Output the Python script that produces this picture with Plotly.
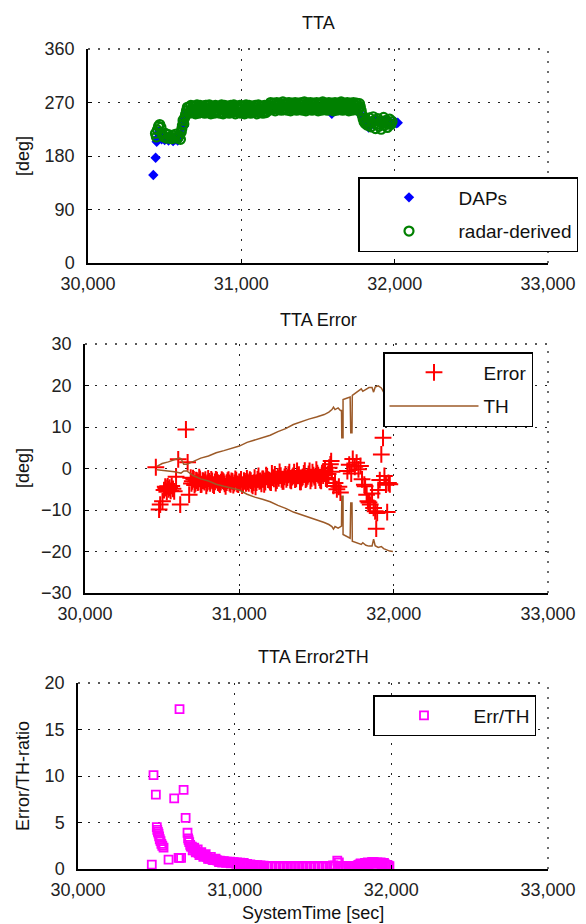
import plotly.graph_objects as go

# ---------------- data ----------------
X_TICKS = [30000, 31000, 32000, 33000]
X_TICK_TEXT = ["30,000", "31,000", "32,000", "33,000"]
Y1_TICKS = [0, 90, 180, 270, 360]
Y2_TICKS = [-30, -20, -10, 0, 10, 20, 30]
Y3_TICKS = [0, 5, 10, 15, 20]

daps_t = [30426, 30441, 30448, 30452, 30458, 30465, 30472, 30480, 30490, 30500, 30512, 30525,
          30540, 30555, 30570, 30585, 30598, 30605, 30612, 30618, 30625, 30632, 30640, 30650,
          30700, 30750, 30800, 30850, 30900, 30950, 31000, 31050, 31100, 31150, 31200, 31250,
          31300, 31350, 31400, 31450, 31500, 31590, 31650, 31709, 31740, 31770, 31790, 31800,
          31810, 31820, 31830, 31845, 31860, 31880, 31900, 31920, 31940, 31960, 31980, 32000,
          32010, 32020]
daps_v = [148, 177, 204, 210, 218, 222, 214, 208, 210, 207, 212, 206,
          209, 205, 208, 206, 212, 218, 232, 238, 230, 245, 250, 254,
          255, 258, 256, 259, 254, 257, 255, 258, 256, 259, 262, 263,
          261, 264, 262, 263, 259, 251, 262, 256, 263, 252, 245, 240,
          236, 232, 228, 238, 235, 242, 236, 232, 240, 236, 234, 238,
          235, 236]

radar_t = [30440, 30446, 30452, 30460, 30468, 30476, 30485, 30495, 30505, 30515, 30525, 30535,
           30545, 30555, 30565, 30575, 30585, 30595, 30603, 30608, 30612, 30616, 30620, 30625,
           30630, 30636, 30642, 30648,
           30656, 30665, 30677, 30686, 30695, 30707, 30716, 30725, 30737, 30746, 30755, 30767,
           30776, 30785, 30797, 30806, 30815, 30827, 30836, 30845, 30857, 30866, 30875, 30887,
           30896, 30905, 30917, 30926, 30935, 30947, 30956, 30965, 30977, 30986, 30995, 31007,
           31016, 31025, 31037, 31046, 31055, 31067, 31076, 31085, 31097, 31106, 31115, 31127,
           31136, 31145, 31157, 31166,
           30661, 30671, 30681, 30691, 30701, 30711, 30721, 30731, 30741, 30751, 30761, 30771,
           30781, 30791, 30801, 30811, 30821, 30831, 30841, 30851, 30861, 30871, 30881, 30891,
           30901, 30911, 30921, 30931, 30941, 30951, 30961, 30971, 30981, 30991, 31001, 31011,
           31021, 31031, 31041, 31051, 31061, 31071, 31081, 31091, 31101, 31111, 31121, 31131,
           31141, 31151, 31161, 31171,
           31176, 31185, 31197, 31206, 31215, 31227, 31236, 31245, 31257, 31266, 31275, 31287,
           31296, 31305, 31317, 31326, 31335, 31347, 31356, 31365, 31377, 31386, 31395, 31407,
           31416, 31425, 31437, 31446, 31455, 31467, 31476, 31485, 31497, 31506, 31515, 31527,
           31536, 31545, 31557, 31566, 31575, 31587, 31596, 31605, 31617, 31626, 31635, 31647,
           31656, 31665, 31677, 31686, 31695, 31707, 31716, 31725, 31737, 31746, 31755, 31767,
           31776,
           31181, 31191, 31201, 31211, 31221, 31231, 31241, 31251, 31261, 31271, 31281, 31291,
           31301, 31311, 31321, 31331, 31341, 31351, 31361, 31371, 31381, 31391, 31401, 31411,
           31421, 31431, 31441, 31451, 31461, 31471, 31481, 31491, 31501, 31511, 31521, 31531,
           31541, 31551, 31561, 31571, 31581, 31591, 31601, 31611, 31621, 31631, 31641, 31651,
           31661, 31671, 31681, 31691, 31701, 31711, 31721, 31731, 31741, 31751, 31761, 31771,
           31782, 31788, 31794, 31800, 31806, 31812, 31820, 31828, 31836, 31845, 31852, 31860,
           31868, 31875, 31882, 31890, 31898, 31905, 31912, 31920, 31928, 31936, 31944, 31952,
           31960, 31968, 31975, 31983]
radar_v = [218, 212, 224, 230, 233, 228, 216, 212, 218, 210, 216, 212,
           209, 215, 211, 217, 210, 214, 208, 220, 226, 232, 240, 234,
           244, 250, 256, 262,
           262, 255, 259, 264, 253, 260, 257, 263, 254, 261, 256, 265,
           258, 253, 262, 257, 260, 254, 263, 256, 259, 264, 253, 261,
           257, 262, 255, 260, 254, 263, 258, 256, 261, 253, 259, 264,
           255, 260, 257, 262, 254, 259, 263, 256, 261, 254, 258, 263,
           257, 260, 255, 262,
           252, 265, 253, 264, 251, 266, 252, 265, 254, 264, 252, 265,
           253, 266, 251, 264, 252, 265, 253, 264, 252, 266, 251, 265,
           253, 264, 252, 265, 254, 266, 251, 264, 253, 265, 252, 264,
           251, 266, 253, 265, 252, 264, 254, 265, 251, 266, 253, 264,
           252, 265, 253, 264,
           266, 259, 263, 268, 261, 265, 260, 267, 262, 264, 258, 266,
           263, 269, 260, 265, 262, 267, 259, 264, 268, 261, 266, 263,
           260, 265, 269, 262, 264, 259, 267, 263, 261, 266, 260, 268,
           262, 265, 259, 264, 267, 261, 263, 266, 260, 265, 262, 268,
           259, 264, 261, 266, 263, 258, 265, 262, 267, 260, 264, 261,
           263,
           257, 270, 258, 269, 256, 270, 258, 269, 257, 271, 258, 269,
           257, 270, 256, 269, 258, 270, 257, 269, 258, 270, 257, 271,
           256, 269, 258, 270, 257, 269, 258, 270, 256, 269, 257, 271,
           258, 269, 257, 270, 258, 269, 256, 270, 257, 269, 258, 271,
           257, 269, 258, 270, 256, 269, 257, 270, 258, 269, 257, 268,
           256, 249, 243, 238, 235, 240, 232, 237, 244, 229, 236, 246,
           240, 226, 233, 243, 230, 238, 225, 235, 245, 232, 240, 228,
           236, 242, 233, 238]

err_t = [30459, 30480, 30487, 30502, 30512, 30520, 30524, 30530, 30536, 30542, 30548, 30555,
         30562, 30570, 30578, 30590, 30604, 30617, 30654, 30665, 30675,
         30685, 30695, 30705, 30715, 30725, 30735, 30745, 30755, 30768, 30780, 30792, 30805,
         30818, 30830, 30842, 30855, 30868, 30880, 30893, 30905, 30918, 30930, 30943, 30955,
         30968, 30980, 30993, 31005, 31018, 31030, 31043, 31055, 31068, 31080, 31093, 31105,
         31118, 31130, 31143, 31155, 31168, 31180, 31193, 31205, 31218, 31230, 31243, 31255,
         31268, 31280, 31293, 31305, 31318, 31330, 31343, 31355, 31368, 31380, 31393, 31405,
         31418, 31430, 31443, 31455, 31468, 31480, 31493, 31505, 31518, 31530, 31543, 31555,
         31568, 31575, 31582, 31590, 31595, 31600, 31610, 31620, 31632, 31645, 31655,
         31700, 31712, 31725, 31735, 31748, 31760, 31772, 31785, 31795, 31810, 31815, 31825,
         31833, 31840, 31848, 31860, 31870, 31880, 31887, 31893, 31900, 31910, 31920, 31931,
         31940, 31950, 31958, 31966, 31975,
         30690, 30700, 30710, 30720, 30730, 30740, 30750, 30762, 30774, 30786, 30798, 30811,
         30824, 30836, 30848, 30861, 30874, 30886, 30899, 30911, 30924, 30936, 30949, 30961,
         30974, 30986, 30999, 31011, 31024, 31036, 31049, 31061, 31074, 31086, 31099, 31111,
         31124, 31136, 31149, 31161, 31174, 31186, 31199, 31211, 31224, 31236, 31249, 31261,
         31274, 31286, 31299, 31311, 31324, 31336, 31349, 31361, 31374, 31386, 31399, 31411,
         31424, 31436, 31449, 31461, 31474, 31486, 31499, 31511, 31524, 31536, 31549, 31561]
err_v = [0.3, -9.9, -8.7, -7.9, -5.2, -4.4, -4.7, -5.6, -4.3, -5.0, -4.6, -5.4,
         -4.2, -4.9, -5.5, -2.0, 2.2, -8.7, 9.4, 1.5, -6.3,
         -2.2, -3.1, -2.6, -3.6, -2.9, -3.3, -2.5, -3.8, -3.0, -2.7, -3.5, -3.1,
         -2.6, -3.9, -3.2, -2.8, -3.6, -3.3, -2.9, -3.7, -3.4, -2.7, -3.8, -3.1,
         -3.5, -2.8, -3.9, -3.3, -4.1, -2.9, -3.6, -3.2, -2.7, -3.8, -3.4, -4.4,
         -2.6, -3.1, -3.7, -2.5, -3.3, -1.9, -2.8, -3.4, -2.2, -1.4, -2.9, -2.4,
         -1.7, -3.1, -2.0, -2.6, -1.5, -2.8, -2.1, -0.9, -2.5, -1.8, -3.2, -2.3,
         -1.2, -2.7, -1.9, -0.6, -2.4, -1.6, -2.9, -1.1, -2.2, -3.0, -1.7, -0.4,
         -2.6, -1.3, 0.2, 1.0, 1.8, -0.8, -4.2, -3.5, -5.0, -4.4, -5.8,
         -0.6, 0.9, -1.2, 2.3, 0.4, 1.4, -0.2, 0.6, -2.6, -3.9, -4.3, -6.3,
         -7.9, -8.2, -8.7, -6.0, -9.5, -10.3, -14.5, -10.7, -5.2, -2.8, 3.4, 7.4,
         -1.8, -3.9, -10.5, -3.5, -3.8,
         -3.6, -2.3, -4.0, -2.8, -3.4, -2.1, -3.9, -2.9, -3.3, -4.2, -2.4, -3.6,
         -3.0, -4.1, -2.6, -3.4, -3.9, -2.7, -3.2, -4.3, -2.9, -3.5, -3.0, -4.0,
         -2.5, -3.7, -3.2, -2.6, -3.9, -3.1, -2.4, -3.6, -2.9, -4.2, -2.2, -3.4,
         -1.8, -3.0, -2.5, -3.8, -1.6, -2.7, -3.3, -1.2, -2.5, -3.5, -1.9, -0.8,
         -2.6, -3.1, -1.4, -2.2, -0.9, -3.0, -1.8, -2.7, -0.6, -1.5, -3.2, -2.0,
         -0.5, -2.4, -1.3, -3.0, -0.9, -2.1, -0.3, -1.6, -2.8, -1.1, -0.7, -2.3]

th_t = [30466, 30500, 30540, 30580, 30610, 30622, 30640, 30660, 30700, 30750, 30800, 30850,
        30900, 30950, 31000, 31050, 31100, 31150, 31200, 31250, 31300, 31350, 31400, 31450,
        31500, 31550, 31580, 31600, 31610, 31620, 31640, 31655, 31662, 31664, 31672, 31672,
        31700, 31718, 31722, 31730, 31732, 31760, 31790, 31800, 31820, 31840, 31860, 31870,
        31880, 31900, 31920, 31935, 31950, 31975, 31995]
th_up = [0.5, 1.2, 1.6, 2.2, 2.5, 2.4, 1.0, 1.0, 1.7, 2.5, 3.0, 3.8,
         4.3, 4.8, 5.4, 6.3, 6.9, 7.5, 8.0, 8.9, 9.6, 10.6, 11.3, 11.9,
         12.4, 13.0, 13.6, 14.2, 14.8, 14.2, 14.6, 14.0, 14.0, 7.4, 7.4, 16.6,
         17.0, 17.2, 8.6, 8.6, 17.6, 18.3, 19.2, 18.6, 19.0, 19.5, 19.5, 18.4,
         19.6, 19.9, 19.4, 18.4, 19.9, 19.9, 19.4]
th_lo = [-0.3, -0.4, -0.6, -0.8, -1.0, -1.1, -0.6, -0.6, -1.7, -2.5, -3.0, -3.8,
         -4.3, -4.8, -5.2, -6.2, -6.9, -7.4, -8.0, -8.9, -9.6, -10.5, -11.1, -11.8,
         -12.4, -13.0, -13.5, -14.0, -14.6, -14.0, -14.4, -13.9, -13.9, -6.7, -6.7, -15.9,
         -16.4, -16.8, -8.3, -8.3, -17.5, -17.8, -18.3, -17.9, -18.5, -18.7, -18.7, -17.0,
         -18.6, -19.0, -18.8, -19.3, -19.6, -19.9, -20.0]

ratio_t = [30471, 30482, 30497, 30503, 30506, 30510, 30514, 30518, 30522, 30527, 30532, 30538,
           30546, 30578, 30614, 30642, 30648, 30648, 30658, 30674, 30687, 30699, 30703, 30706,
           30716, 30727, 30738, 30748, 30759, 30770, 30780, 30795, 30810, 30823, 30840, 30855,
           30866, 30885, 30905, 30930, 30950, 30970, 30994, 31015, 31035, 31058, 31080, 31100,
           31122, 31143, 31165, 31185, 31207, 31230, 31255, 31280, 31305, 31330, 31355, 31380,
           31405, 31430, 31455, 31480, 31505, 31530, 31555, 31580, 31605, 31628, 31655, 31676,
           31695, 31715, 31735, 31755, 31775, 31790, 31804, 31818, 31832, 31850, 31862, 31876,
           31890, 31904, 31918, 31932, 31946, 31960, 31974, 31988,
           30710, 30720, 30732, 30742, 30752, 30764, 30775, 30787, 30800, 30815, 30830, 30848,
           30862, 30878,
           30890, 30900, 30912, 30920, 30935, 30945, 30960, 30975, 30985, 31000, 31010, 31025,
           31040, 31050, 31065, 31075, 31090, 31110, 31130, 31150, 31170, 31190, 31215, 31240,
           31265, 31290, 31315, 31340, 31365, 31390, 31415, 31440, 31465, 31490, 31515, 31540,
           31565, 31590, 31615, 31640, 31665, 31690, 31705, 31725, 31745, 31765, 31785, 31797,
           31810, 31825, 31840, 31855, 31870, 31883, 31897, 31911, 31925, 31939, 31953, 31967,
           31981]
ratio_v = [0.46, 10.1, 8.0, 4.5, 4.2, 4.0, 3.8, 3.5, 3.2, 3.0, 2.7, 2.5,
           2.3, 1.0, 7.6, 1.2, 1.2, 17.2, 1.2, 8.5, 5.5, 3.9, 3.3, 3.1,
           2.6, 2.4, 2.2, 2.0, 1.9, 1.7, 1.6, 1.5, 1.4, 1.3, 1.1, 1.05,
           1.0, 0.95, 0.9, 0.85, 0.8, 0.78, 0.75, 0.7, 0.68, 0.65, 0.55, 0.5,
           0.45, 0.42, 0.4, 0.35, 0.33, 0.3, 0.3, 0.28, 0.3, 0.27, 0.3, 0.28,
           0.3, 0.32, 0.3, 0.28, 0.3, 0.31, 0.29, 0.3, 0.33, 0.4, 0.9, 0.3,
           0.28, 0.3, 0.27, 0.3, 0.32, 0.45, 0.6, 0.55, 0.65, 0.7, 0.6, 0.75,
           0.7, 0.65, 0.6, 0.7, 0.55, 0.5, 0.45, 0.3,
           2.9, 2.4, 2.0, 2.3, 1.8, 2.1, 1.5, 1.8, 1.3, 1.6, 1.1, 1.3,
           0.95, 1.1,
           0.9, 0.75, 0.85, 0.7, 0.8, 0.65, 0.75, 0.6, 0.7, 0.65, 0.55, 0.6,
           0.5, 0.55, 0.45, 0.5, 0.4, 0.38, 0.33, 0.35, 0.3, 0.32, 0.28, 0.3,
           0.25, 0.3, 0.27, 0.3, 0.25, 0.3, 0.28, 0.25, 0.3, 0.27, 0.25, 0.3,
           0.28, 0.25, 0.3, 0.35, 0.7, 0.3, 0.28, 0.3, 0.25, 0.3, 0.35, 0.5,
           0.4, 0.55, 0.6, 0.45, 0.65, 0.75, 0.55, 0.7, 0.6, 0.5, 0.65, 0.45,
           0.35]

# ---------------- styling ----------------
W, H = 586, 924
FONT = "Liberation Sans, Arial, sans-serif"
FS = 18
GRID = dict(showgrid=True, gridcolor="#222", gridwidth=1.3, griddash="2px,8px")


def px_x(p):
    return p / W


def px_y(p):
    return 1 - p / H


# axis boxes in pixels: (left, right, top, bottom)
boxes = [(88, 548, 49, 263), (85, 548, 344, 593), (78, 548, 683, 869)]

fig = go.Figure()

fig.add_trace(go.Scatter(x=daps_t, y=daps_v, mode="markers", name="DAPs",
                         marker=dict(symbol="diamond", size=8, color="#0000FF"),
                         xaxis="x", yaxis="y", legend="legend", legendgroup="a"))
fig.add_trace(go.Scatter(x=radar_t, y=radar_v, mode="markers", name="radar-derived",
                         marker=dict(symbol="circle-open", size=9, color="#008000",
                                     line=dict(width=2.2, color="#008000")),
                         xaxis="x", yaxis="y", legend="legend", legendgroup="b"))

fig.add_trace(go.Scatter(x=err_t, y=err_v, mode="markers", name="Error",
                         marker=dict(symbol="cross-thin-open", size=12, color="#FF0000",
                                     line=dict(width=2, color="#FF0000")),
                         xaxis="x2", yaxis="y2", legend="legend2", legendgroup="c"))
fig.add_trace(go.Scatter(x=th_t, y=th_up, mode="lines", name="TH",
                         line=dict(color="#9C5A28", width=1.5),
                         xaxis="x2", yaxis="y2", legend="legend2", legendgroup="d"))
fig.add_trace(go.Scatter(x=th_t, y=th_lo, mode="lines", name="TH", showlegend=False,
                         line=dict(color="#9C5A28", width=1.5),
                         xaxis="x2", yaxis="y2", legend="legend2"))

fig.add_trace(go.Scatter(x=ratio_t, y=ratio_v, mode="markers", name="Err/TH",
                         marker=dict(symbol="square-open", size=8, color="#FF00FF",
                                     line=dict(width=1.8, color="#FF00FF")),
                         xaxis="x3", yaxis="y3", legend="legend3", legendgroup="e"))

yticks = [Y1_TICKS, Y2_TICKS, Y3_TICKS]
layout = dict(width=W, height=H, margin=dict(l=0, r=0, t=0, b=0, autoexpand=False),
              paper_bgcolor="white", plot_bgcolor="white",
              font=dict(family=FONT, size=FS, color="#222"), showlegend=True)

shapes = []
for i, (l, r, t, b) in enumerate(boxes):
    sfx = "" if i == 0 else str(i + 1)
    yt = yticks[i]
    layout["xaxis" + sfx] = dict(domain=[px_x(l), px_x(r)], range=[30000, 33000],
                                 anchor="y" + sfx, tickvals=X_TICKS, ticktext=X_TICK_TEXT,
                                 showline=True, linecolor="black", linewidth=1.5,
                                 ticks="inside", ticklen=4, tickcolor="black",
                                 zeroline=False, ticklabelstandoff=4, **GRID)
    layout["yaxis" + sfx] = dict(domain=[px_y(b), px_y(t)], range=[yt[0], yt[-1]],
                                 anchor="x" + sfx, tickvals=yt,
                                 showline=True, linecolor="black", linewidth=1.5,
                                 ticks="inside", ticklen=4, tickcolor="black",
                                 zeroline=False, ticklabelstandoff=8, **GRID)
    # top and right dotted edges (grid lines at the range ends)
    shapes.append(dict(type="line", xref="x" + sfx + " domain", yref="y" + sfx + " domain",
                       x0=0, x1=1, y0=1, y1=1, line=dict(color="#222", width=1.3, dash="2px,8px")))
    shapes.append(dict(type="line", xref="x" + sfx + " domain", yref="y" + sfx + " domain",
                       x0=1, x1=1, y0=0, y1=1, line=dict(color="#222", width=1.3, dash="2px,8px")))

layout["shapes"] = shapes

leg = dict(xanchor="left", yanchor="top", bgcolor="white", bordercolor="black",
           borderwidth=1.5, font=dict(family=FONT, size=19, color="#111"),
           itemwidth=89, tracegroupgap=6, traceorder="grouped")
layout["legend"] = dict(x=px_x(358), y=px_y(177), **leg)
layout["legend2"] = dict(x=px_x(383), y=px_y(352), **leg)
layout["legend3"] = dict(x=px_x(373), y=px_y(695), **leg)

ann = []
for txt, cx, cy in [("TTA", 318, 23), ("TTA Error", 318, 320), ("TTA Error2TH", 313, 657),
                    ("SystemTime [sec]", 313, 913)]:
    ann.append(dict(text=txt, x=px_x(cx), y=px_y(cy), xref="paper", yref="paper",
                    showarrow=False, xanchor="center", yanchor="middle",
                    font=dict(family=FONT, size=FS, color="#111")))
for txt, cy in [("[deg]", 156), ("[deg]", 468), ("Error/TH-ratio", 776)]:
    ann.append(dict(text=txt, x=px_x(23), y=px_y(cy), xref="paper", yref="paper",
                    showarrow=False, xanchor="center", yanchor="middle", textangle=-90,
                    font=dict(family=FONT, size=FS, color="#111")))
layout["annotations"] = ann

fig.update_layout(**layout)
fig.write_html("out.html")
